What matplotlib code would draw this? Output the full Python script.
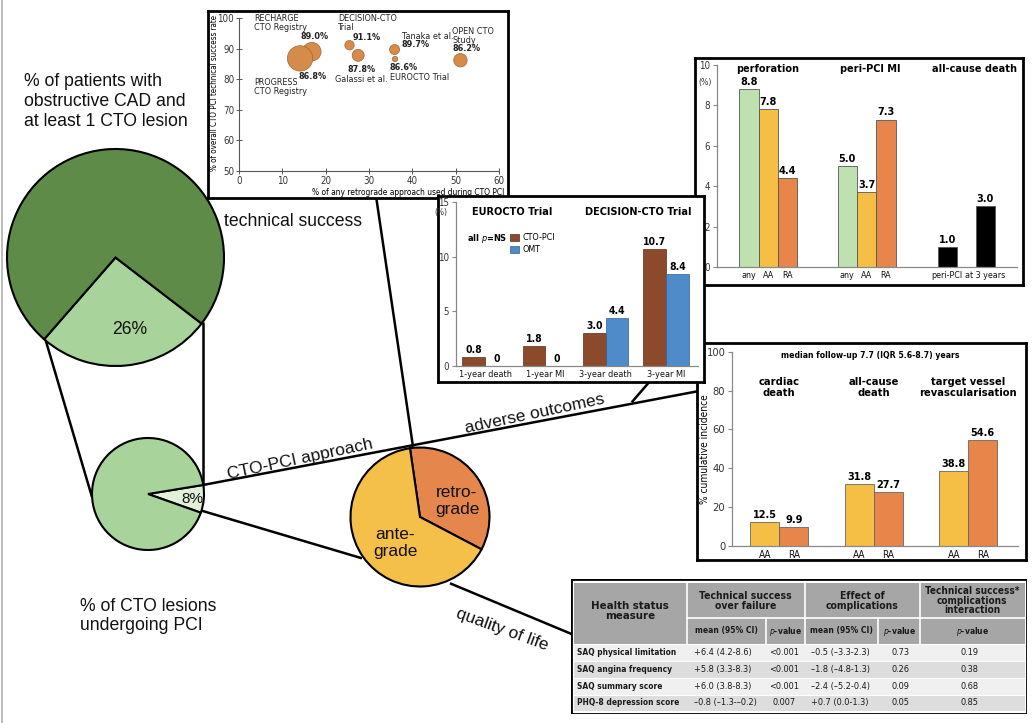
import numpy as np
import matplotlib
matplotlib.use("Agg")
import matplotlib.pyplot as plt
from matplotlib import font_manager
from matplotlib.patches import Rectangle

# ---------------------------------------------------------------- data
cad_cto_split = [26, 74]            # % of patients with obstructive CAD and >=1 CTO
cto_pci_split = [8, 92]             # % of CTO lesions undergoing PCI
approach_labels = ["retro-\ngrade", "ante-\ngrade"]
approach_split = [35, 65]

study_names = ["RECHARGE\nCTO Registry", "PROGRESS\nCTO Registry", "DECISION-CTO\nTrial",
               "Galassi et al.", "Tanaka et al.", "EUROCTO Trial", "OPEN CTO\nStudy"]
retro_use = [16.8, 14.1, 25.5, 27.5, 35.9, 36.0, 51.1]
tech_success = [89.0, 86.8, 91.1, 87.8, 89.7, 86.6, 86.2]
cohort_weight = [86, 161, 22, 36, 25, 7, 45]

comp_groups = ["perforation", "peri-PCI MI", "all-cause death"]
comp_labels = [["any", "AA", "RA"], ["any", "AA", "RA"], ["peri-PCI", "at 3 years"]]
comp_values = [[8.8, 7.8, 4.4], [5.0, 3.7, 7.3], [1.0, 3.0]]

rct_trials = ["EUROCTO Trial", "DECISION-CTO Trial"]
rct_outcomes = ["1-year death", "1-year MI", "3-year death", "3-year MI"]
rct_cto_pci = [0.8, 1.8, 3.0, 10.7]
rct_omt = [0, 0, 4.4, 8.4]

lt_outcomes = ["cardiac\ndeath", "all-cause\ndeath", "target vessel\nrevascularisation"]
lt_aa = [12.5, 31.8, 38.8]
lt_ra = [9.9, 27.7, 54.6]

qol_measures = ["SAQ physical limitation", "SAQ angina frequency",
                "SAQ summary score", "PHQ-8 depression score"]
qol_ts_mean = ["+6.4 (4.2-8.6)", "+5.8 (3.3-8.3)", "+6.0 (3.8-8.3)", "\u20130.8 (\u20131.3-\u20130.2)"]
qol_ts_p = ["<0.001", "<0.001", "<0.001", "0.007"]
qol_comp_mean = ["\u20130.5 (\u20133.3-2.3)", "\u20131.8 (\u20134.8-1.3)", "\u20132.4 (\u20135.2-0.4)", "+0.7 (0.0-1.3)"]
qol_comp_p = ["0.73", "0.26", "0.09", "0.05"]
qol_inter_p = ["0.19", "0.38", "0.68", "0.85"]

# ---------------------------------------------------------------- fonts
names = {f.name for f in font_manager.fontManager.ttflist}
if "Liberation Sans Narrow" in names:
    plt.rcParams["font.family"] = ["Liberation Sans Narrow", "DejaVu Sans"]
else:
    plt.rcParams["font.family"] = ["DejaVu Sans"]
    plt.rcParams["font.stretch"] = "condensed"
MAIN = "Liberation Sans" if "Liberation Sans" in names else "DejaVu Sans"

W, H = 1035, 723
fig = plt.figure(figsize=(W / 100, H / 100), dpi=100)
fig.patch.set_facecolor("white")


def fr(x0, y0, x1, y1):
    return [x0 / W, 1 - y1 / H, (x1 - x0) / W, (y1 - y0) / H]


# ---------------------------------------------------------------- background lines
bg = fig.add_axes([0, 0, 1, 1], zorder=0)
bg.set_xlim(0, W)
bg.set_ylim(H, 0)
bg.axis("off")
segments = [((45, 338), (92, 497)), ((202.7, 322), (202.7, 486)),
            ((203, 485), (699, 391)), ((631.7, 402.3), (651, 380)),
            ((376, 196), (413, 446.7)), ((201.7, 510.7), (362, 558.3)),
            ((450, 583.3), (573, 634.6))]
for (x0, y0), (x1, y1) in segments:
    bg.plot([x0, x1], [y0, y1], color="black", lw=1.8, solid_capstyle="butt")
bg.plot([1.5, 1.5], [0, H], color="#b0b0b0", lw=1.2)

# ---------------------------------------------------------------- pies
def pie_axes(cx, cy, r, z=2):
    return fig.add_axes(fr(cx - r, cy - r, cx + r, cy + r), zorder=z)


def finish_pie(a, wedges):
    a.set_aspect("auto")
    a.set_xlim(-1, 1)
    a.set_ylim(-1, 1)
    a.axis("off")
    for w in wedges:
        w.set_clip_on(False)


ap1 = pie_axes(115.5, 257.5, 108.5)
w1, _ = ap1.pie(cad_cto_split, colors=["#a8d39a", "#5f8b48"], startangle=-131.1,
                counterclock=True, wedgeprops=dict(edgecolor="black", linewidth=1.5))
finish_pie(ap1, w1)

ap2 = pie_axes(148, 494, 56)
w2, _ = ap2.pie(cto_pci_split, colors=["#e2f0d9", "#a8d39a"], startangle=-19.5,
                counterclock=True, wedgeprops=dict(edgecolor="black", linewidth=1.5))
finish_pie(ap2, w2)

ap3 = pie_axes(420, 517, 69.5)
w3, _ = ap3.pie(approach_split, colors=["#e5874c", "#f5c04a"], startangle=-27.7,
                counterclock=True, wedgeprops=dict(edgecolor="black", linewidth=1.5))
finish_pie(ap3, w3)

# ---------------------------------------------------------------- frames
def frame(x0, y0, x1, y1, z):
    a = fig.add_axes(fr(x0, y0, x1, y1), zorder=z)
    a.set_xticks([])
    a.set_yticks([])
    a.set_facecolor("white")
    for s in a.spines.values():
        s.set_linewidth(2.0)
        s.set_color("black")
    return a


def style_axes(a):
    a.patch.set_alpha(0)
    for s in ["top", "right"]:
        a.spines[s].set_visible(False)
    for s in ["left", "bottom"]:
        a.spines[s].set_color("#888888")
        a.spines[s].set_linewidth(0.9)
    a.tick_params(axis="y", direction="out", length=3, width=0.8, color="#888888",
                  labelsize=7, labelcolor="#333333", pad=2)
    a.tick_params(axis="x", length=0, labelsize=7.2, labelcolor="#111111", pad=3)


# ---- scatter (technical success vs retrograde use)
frame(208, 11, 508, 198, 3)
a0 = fig.add_axes(fr(239, 18, 499, 171), zorder=4)
a0.patch.set_alpha(0)
a0.scatter(retro_use, tech_success, s=np.array(cohort_weight) * 2.07, color="#d58b49",
           edgecolor="#a9632d", linewidth=0.5, zorder=3, clip_on=False)
a0.set_xlim(0, 60)
a0.set_ylim(50, 100)
a0.set_xticks(range(0, 61, 10))
a0.set_yticks(range(50, 101, 10))
for s in ["top", "right"]:
    a0.spines[s].set_visible(False)
for s in ["left", "bottom"]:
    a0.spines[s].set_color("#555555")
    a0.spines[s].set_linewidth(0.8)
a0.tick_params(direction="inout", length=5, width=0.7, color="#555555",
               labelsize=7, labelcolor="#333333", pad=1)
a0.set_xlabel("% of any retrograde approach used during CTO PCI", fontsize=6.0)
a0.xaxis.set_label_coords(0.65, -0.11)
a0.set_ylabel("% of overall CTO PCI technical success rate", fontsize=5.8)
a0.yaxis.set_label_coords(-0.076, 0.51)
name_xy = [(3.5, 98.4), (3.5, 77.5), (22.9, 98.4), (22.2, 79.8), (37.5, 93.9), (34.8, 80.4), (49.2, 94.0)]
value_xy = [(14.1, 93.8), (13.7, 81.0), (26.2, 93.5), (25.1, 83.3), (37.5, 91.3), (34.8, 83.7), (49.2, 89.9)]
for nm, v, nxy, vxy in zip(study_names, tech_success, name_xy, value_xy):
    a0.text(nxy[0], nxy[1], nm, fontsize=6.5, ha="left", va="center", linespacing=1.0, color="#222222")
    a0.text(vxy[0], vxy[1], f"{v:.1f}%", fontsize=6.5, ha="left", va="center",
            fontweight="bold", color="#222222")

# ---- complication bars (top right)
frame(695, 58, 1023, 285, 3)
a1 = fig.add_axes(fr(717, 65, 1016.7, 267), zorder=4)
style_axes(a1)
starts = [1.66, 6.75, 11.93]
steps = [1.0, 1.0, 1.97]
cmap = {"any": "#bfe1b0", "AA": "#f5bf45", "RA": "#e8854b"}
all_x, all_lbl = [], []
for gi, (labels, vals) in enumerate(zip(comp_labels, comp_values)):
    xs = starts[gi] + steps[gi] * np.arange(len(vals))
    cols = [cmap.get(l, "black") for l in labels]
    bars = a1.bar(xs, vals, width=1.0, color=cols, edgecolor="#555555", linewidth=0.6)
    a1.bar_label(bars, labels=[f"{v:.1f}" for v in vals], padding=1.5, fontsize=7.8,
                 fontweight="bold")
    all_x += list(xs)
    all_lbl += labels
a1.set_xticks(all_x)
a1.set_xticklabels(all_lbl)
a1.tick_params(axis="x", labelsize=6.4)
a1.set_xlim(0, 15.53)
a1.set_ylim(0, 10)
a1.set_yticks(range(0, 11, 2))
for x, t in zip([2.63, 7.93, 13.33], comp_groups):
    a1.text(x, 9.8, t, ha="center", va="center", fontsize=7.8, fontweight="bold")
a1.text(-0.62, 9.12, "(%)", ha="center", va="center", fontsize=6.3, color="#333333", clip_on=False)

# ---- long-term outcomes (bottom right)
frame(697, 343, 1026, 560, 3)
a3 = fig.add_axes(fr(732.3, 351.7, 1018, 546), zorder=4)
style_axes(a3)
xg = np.arange(len(lt_outcomes))
bw = 0.307
b_aa = a3.bar(xg - bw / 2, lt_aa, bw, color="#f5bf45", edgecolor="#666666", linewidth=0.6)
b_ra = a3.bar(xg + bw / 2, lt_ra, bw, color="#e8854b", edgecolor="#666666", linewidth=0.6)
for b, vals in [(b_aa, lt_aa), (b_ra, lt_ra)]:
    a3.bar_label(b, labels=[f"{v:.1f}" for v in vals], padding=1.5, fontsize=7.8, fontweight="bold")
a3.set_xticks(np.concatenate([xg - bw / 2, xg + bw / 2]))
a3.set_xticklabels(["AA"] * 3 + ["RA"] * 3)
a3.set_xlim(-0.497, 2.526)
a3.set_ylim(0, 100)
a3.set_yticks(range(0, 101, 20))
a3.tick_params(axis="y", labelsize=8)
a3.set_ylabel("% cumulative incidence", fontsize=7.3)
a3.yaxis.set_label_coords(-0.078, 0.5)
for x, t in zip(xg, lt_outcomes):
    a3.text(x, 81.5, t, ha="center", va="center", fontsize=8, fontweight="bold", linespacing=1.05)
a3.text(0.96, 97.8, "median follow-up 7.7 (IQR 5.6-8.7) years", ha="center", va="center",
        fontsize=6.2, fontweight="bold")

# ---- randomized trials (middle)
frame(438, 196, 703.5, 382, 7)
a2 = fig.add_axes(fr(455.7, 202.3, 698, 365.7), zorder=8)
style_axes(a2)
xr = np.arange(len(rct_outcomes))
rw = 0.375
bc = a2.bar(xr - rw / 2, rct_cto_pci, rw, color="#8c4a2c", edgecolor="#5a2e18", linewidth=0.5, label="CTO-PCI")
bo = a2.bar(xr + rw / 2, rct_omt, rw, color="#4f8ac9", edgecolor="#2f5f93", linewidth=0.5, label="OMT")
for b, vals in [(bc, rct_cto_pci), (bo, rct_omt)]:
    a2.bar_label(b, labels=[f"{v:.1f}" if v else "0" for v in vals], padding=1.5,
                 fontsize=7.5, fontweight="bold")
a2.set_xticks(xr)
a2.set_xticklabels(rct_outcomes)
a2.tick_params(axis="x", labelsize=6.6)
a2.set_xlim(-0.487, 3.53)
a2.set_ylim(0, 15)
a2.set_yticks([0, 5, 10, 15])
a2.text(-0.73, 14.1, "(%)", ha="center", va="center", fontsize=6.0, color="#333333", clip_on=False)
for x, t in zip([0.45, 2.54], rct_trials):
    a2.text(x, 14.1, t, ha="center", va="center", fontsize=7.8, fontweight="bold")
a2.text(-0.30, 11.7, "all $p$=NS", ha="left", va="center", fontsize=6.6, fontweight="bold")
a2.legend(loc="upper left", bbox_to_anchor=(0.226, 0.81), frameon=False, fontsize=6.4,
          handlelength=1.0, handleheight=0.9, handletextpad=0.4, labelspacing=0.35,
          borderaxespad=0, borderpad=0)

# ---- quality of life table
at = fig.add_axes(fr(571, 579, 1027, 713.5), zorder=4)
at.set_xlim(571, 1027)
at.set_ylim(713.5, 579)
at.axis("off")
at.add_patch(Rectangle((571, 579), 456, 134.5, facecolor="white", edgecolor="black", lw=2.0))
cx = [574, 686.7, 766, 805, 878.3, 920, 1024.5]
hy = [582.5, 618, 643.5]
ry = [643.5, 661, 678, 694.7, 711]
at.add_patch(Rectangle((cx[0], hy[0]), cx[-1] - cx[0], hy[2] - hy[0], facecolor="#a6a6a6", lw=0))
for i in range(len(qol_measures)):
    at.add_patch(Rectangle((cx[0], ry[i]), cx[-1] - cx[0], ry[i + 1] - ry[i],
                           facecolor="#f0f0f0" if i % 2 == 0 else "#dddddd", lw=0))
    at.plot([cx[0], cx[-1]], [ry[i], ry[i]], color="white", lw=0.8)
for x in [cx[1], cx[3], cx[5]]:
    at.plot([x, x], [hy[0], hy[2]], color="white", lw=1.2)
for x in [cx[2], cx[4]]:
    at.plot([x, x], [hy[1], hy[2]], color="white", lw=1.2)
at.plot([cx[1], cx[-1]], [hy[1], hy[1]], color="white", lw=1.2)
hc = "#1a1a1a"
at.text((cx[0] + cx[1]) / 2, 611, "Health status\nmeasure", ha="center", va="center",
        fontsize=8.2, fontweight="bold", color=hc, linespacing=1.0)
at.text((cx[1] + cx[3]) / 2, 600.7, "Technical success\nover failure", ha="center", va="center",
        fontsize=7.5, fontweight="bold", color=hc, linespacing=1.0)
at.text((cx[3] + cx[5]) / 2, 600.7, "Effect of\ncomplications", ha="center", va="center",
        fontsize=7.5, fontweight="bold", color=hc, linespacing=1.0)
at.text((cx[5] + cx[6]) / 2, 600.7, "Technical success*\ncomplications\ninteraction", ha="center",
        va="center", fontsize=7.2, fontweight="bold", color=hc, linespacing=0.92)
sub = ["mean (95% CI)", "$p$-value", "mean (95% CI)", "$p$-value", "$p$-value"]
for j, t in enumerate(sub):
    at.text((cx[j + 1] + cx[j + 2]) / 2, 631, t, ha="center", va="center", fontsize=6.1,
            fontweight="bold", color=hc)
for i in range(len(qol_measures)):
    yc = (ry[i] + ry[i + 1]) / 2
    at.text(576.7, yc, qol_measures[i], ha="left", va="center", fontsize=6.0, fontweight="bold", color=hc)
    at.text(694, yc, qol_ts_mean[i], ha="left", va="center", fontsize=6.6, color=hc)
    at.text(784, yc, qol_ts_p[i], ha="center", va="center", fontsize=6.6, color=hc)
    at.text(811, yc, qol_comp_mean[i], ha="left", va="center", fontsize=6.6, color=hc)
    at.text(900, yc, qol_comp_p[i], ha="center", va="center", fontsize=6.6, color=hc)
    at.text(969.3, yc, qol_inter_p[i], ha="center", va="center", fontsize=6.6, color=hc)

# ---------------------------------------------------------------- foreground text
fg = fig.add_axes([0, 0, 1, 1], zorder=20)
fg.set_xlim(0, W)
fg.set_ylim(H, 0)
fg.axis("off")
TK = dict(fontfamily=MAIN, fontstretch="normal", color="#111111")
fg.text(24, 101.7, "% of patients with\nobstructive CAD and\nat least 1 CTO lesion", ha="left",
        va="center", fontsize=12.7, linespacing=1.23, **TK)
fg.text(224, 222, "technical success", ha="left", va="center", fontsize=12.7, **TK)
fg.text(130, 330, f"{cad_cto_split[0]}%", ha="center", va="center", fontsize=12.7, **TK)
fg.text(192.7, 499.3, f"{cto_pci_split[0]}%", ha="center", va="center", fontsize=11, **TK)
fg.text(80, 616, "% of CTO lesions\nundergoing PCI", ha="left", va="center", fontsize=12.7,
        linespacing=1.23, **TK)
fg.text(457, 501, approach_labels[0], ha="center", va="center", fontsize=12.5, linespacing=1.1, **TK)
fg.text(395, 543, approach_labels[1], ha="center", va="center", fontsize=12.5, linespacing=1.1, **TK)
fg.text(300, 459, "CTO-PCI approach", ha="center", va="center", rotation=12,
        rotation_mode="anchor", fontsize=12.5, **TK)
fg.text(535, 414, "adverse outcomes", ha="center", va="center", rotation=12,
        rotation_mode="anchor", fontsize=12.5, **TK)
fg.text(502, 630, "quality of life", ha="center", va="center", rotation=-20,
        rotation_mode="anchor", fontsize=12.5, **TK)

fig.savefig("out.png", dpi=100, facecolor="white")
